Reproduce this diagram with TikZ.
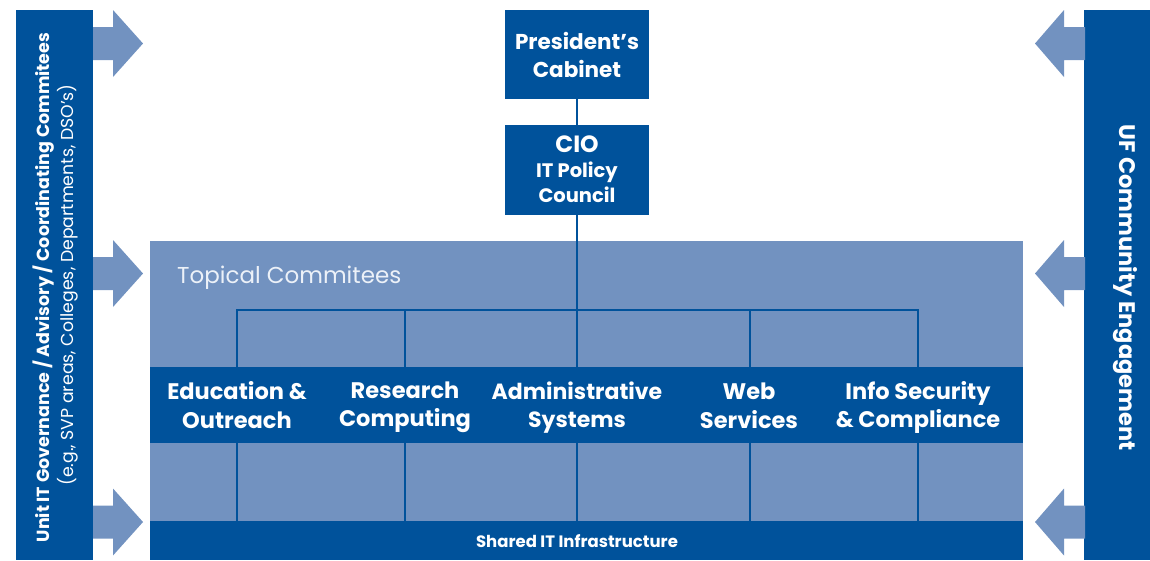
\documentclass[tikz,border=0pt]{standalone}
\usepackage{fontspec}
\setmainfont{Poppins}
\definecolor{dkblue}{RGB}{0,82,155}
\definecolor{ltblue}{RGB}{114,146,192}
\definecolor{paletext}{RGB}{236,241,248}
\tikzset{
  blk/.style={fill=dkblue, draw=none, inner sep=0pt, outer sep=0pt},
  lt/.style={fill=ltblue, draw=none, inner sep=0pt, outer sep=0pt},
  arr/.style={fill=ltblue, draw=none},
  conn/.style={draw=dkblue, line width=2pt},
  lbl/.style={text=white, font=\bfseries\fontsize{22.5}{28.5}\selectfont, align=center, inner sep=0pt},
}
\begin{document}
\begin{tikzpicture}[x=1pt,y=-1pt]
\useasboundingbox (0,0) rectangle (1150,560);
% side bars
\node[blk, minimum width=77pt, minimum height=550pt] (lbar) at (54.5,285) {};
\node[blk, minimum width=66pt, minimum height=550pt] (rbar) at (1117,285) {};
% arrows
\foreach \cy in {43.5,273.5,522}{
  \fill[arr] (93,\cy-16.5) -- (113,\cy-16.5) -- (113,\cy-33.5) -- (143,\cy) -- (113,\cy+33.5) -- (113,\cy+16.5) -- (93,\cy+16.5) -- cycle;
  \fill[arr] (1085,\cy-16.5) -- (1064,\cy-16.5) -- (1064,\cy-33.5) -- (1035,\cy) -- (1064,\cy+33.5) -- (1064,\cy+16.5) -- (1085,\cy+16.5) -- cycle;
}
% side texts
\node[text=white, rotate=90, font=\bfseries\fontsize{17.5}{20}\selectfont, inner sep=0pt] (ltxt1) at (44,287.5) {Unit IT Governance / Advisory / Coordinating Commitees};
\node[text=white, rotate=90, font=\fontsize{17.3}{20}\selectfont, inner sep=0pt] (ltxt2) at (68,285) {(e.g., SVP areas, Colleges, Departments, DSO’s)};
\node[text=white, rotate=-90, font=\bfseries\fontsize{22.5}{26}\selectfont, inner sep=0pt] (rtxt) at (1125,287.5) {UF Community Engagement};
% big region
\node[lt, minimum width=873pt, minimum height=280pt] (topical) at (586.5,381) {};
\node[text=paletext, font=\fontsize{23}{27}\selectfont, anchor=west, inner sep=0pt] (toptxt) at (177,278) {Topical Commitees};
% top boxes
\node[blk, minimum width=144pt, minimum height=89pt] (pc) at (577,54.5) {};
\node[lbl, font=\bfseries\fontsize{21.5}{28}\selectfont] at (pc.center) {President’s\\Cabinet};
\node[blk, minimum width=144pt, minimum height=90pt] (cio) at (577,170) {};
\node[text=white, align=center, inner sep=0pt, font=\bfseries\fontsize{19.5}{25}\selectfont] at (577,169) {{\fontsize{23.5}{27}\selectfont CIO}\\IT Policy\\Council};
% connectors
\coordinate (hub) at (577,310);
\coordinate (hl) at (237,310);
\coordinate (hr) at (918,310);
\draw[conn] (pc.south) -- (cio.north);
\draw[conn] (cio.south) -- (hub);
\draw[conn, line cap=rect] (hl) -- (hr);
% lower lines
\foreach \x/\n in {237/a,405/b,577/c,750/d,918/e}{
  \coordinate (t\n) at (\x,310);
  \coordinate (m\n) at (\x,443);
  \coordinate (s\n) at (\x,521);
  \draw[conn] (t\n) -- (\x,367);
  \draw[conn] (m\n) -- (s\n);
}
% band
\node[blk, minimum width=873pt, minimum height=76pt] (band) at (586.5,405) {};
\node[blk, minimum width=873pt, minimum height=39pt] (shared) at (586.5,540.5) {};
\node[text=white, font=\bfseries\fontsize{16.5}{19}\selectfont, inner sep=0pt] at (577,541) {Shared IT Infrastructure};
% labels
\node[lbl] (edu) at (237,405) {Education \&\\Outreach};
\node[lbl] (res) at (405,407.5) {Research\\Computing};
\node[lbl, font=\bfseries\fontsize{22}{28.5}\selectfont] (adm) at (577,407.5) {Administrative\\Systems};
\node[lbl] (web) at (749,406) {Web\\Services};
\node[lbl] (sec) at (918,407.5) {Info Security\\\& Compliance};
\end{tikzpicture}
\end{document}
